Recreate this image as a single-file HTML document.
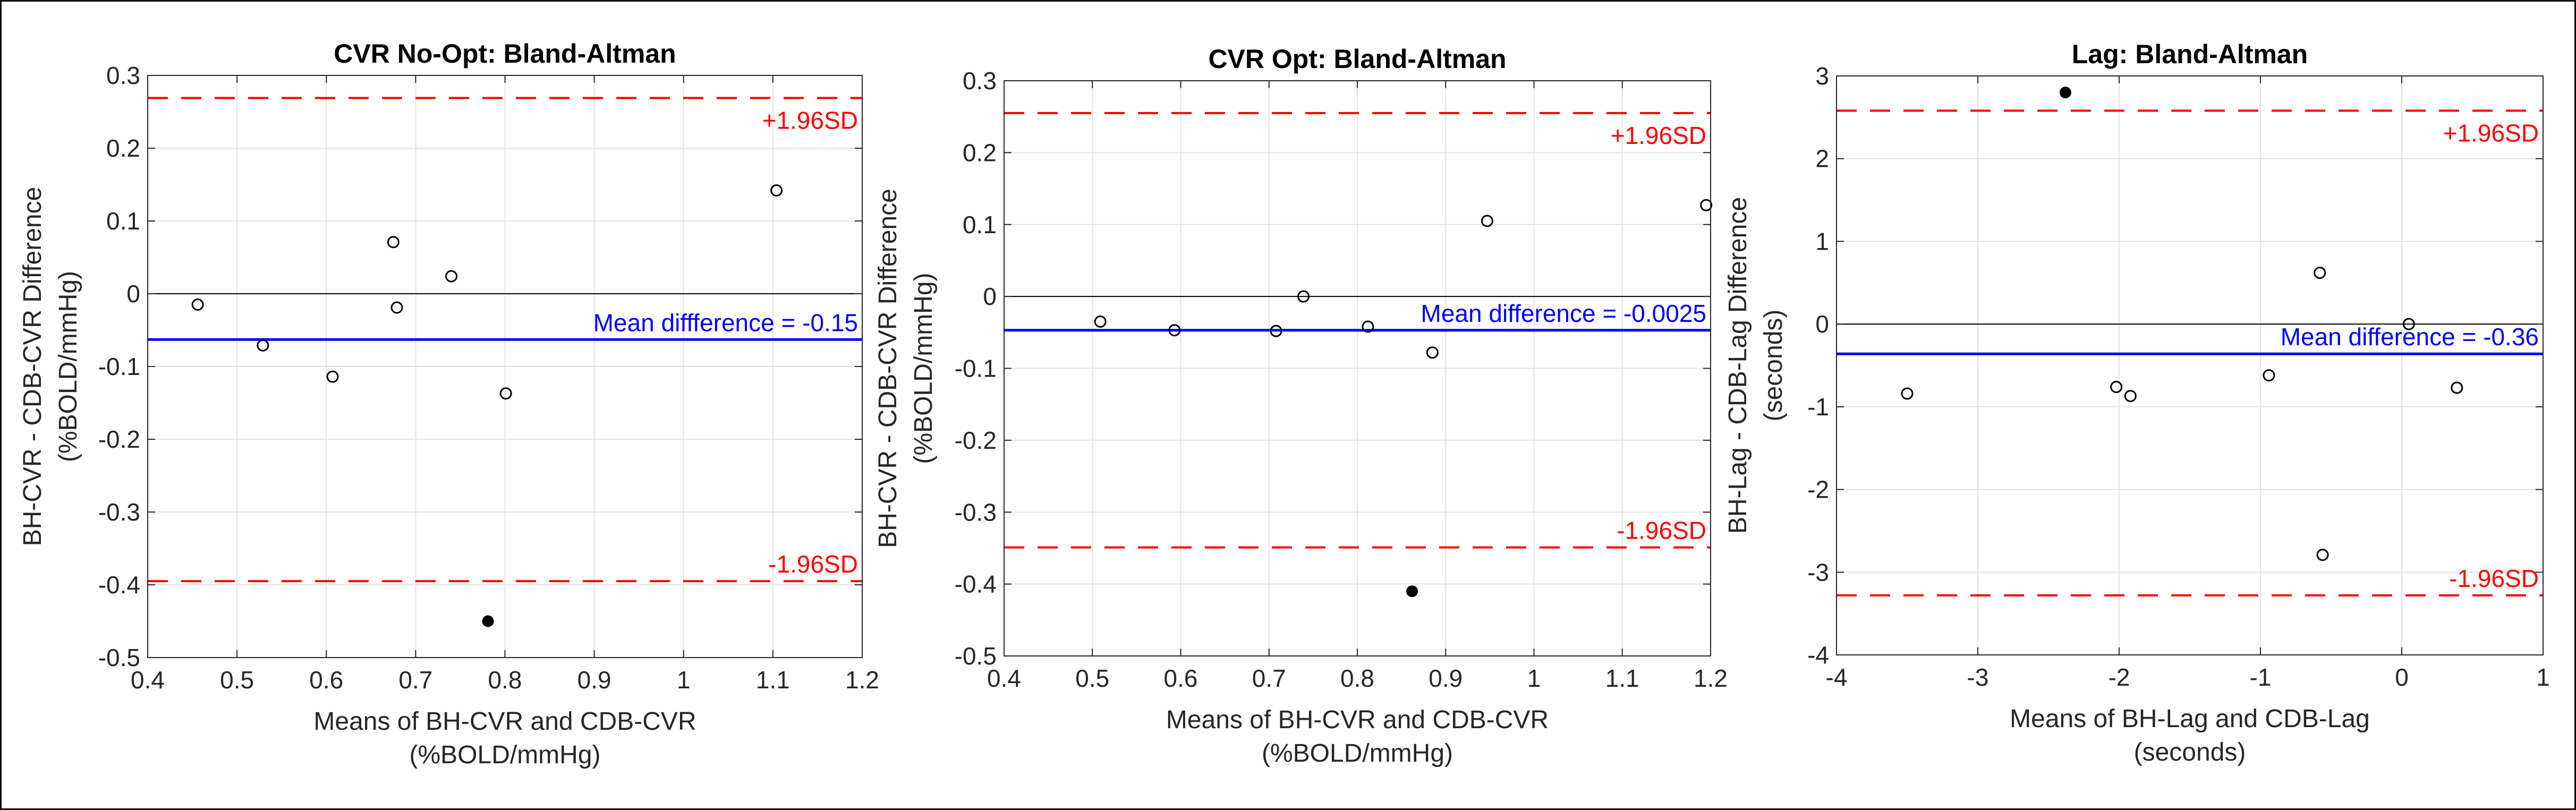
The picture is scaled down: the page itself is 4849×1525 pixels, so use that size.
<!DOCTYPE html>
<html><head><meta charset="utf-8"><style>
html,body{margin:0;padding:0;background:#fff}
svg{display:block}
text{font-family:"Liberation Sans",Arial,sans-serif}
</style></head><body>
<svg id="fig" xmlns="http://www.w3.org/2000/svg" width="4849" height="1525" viewBox="0 0 4849 1525">
<rect x="1.5" y="1.5" width="4846" height="1522" fill="#fff" stroke="#000" stroke-width="3"/>
</svg>
<script>
// Panel 1: CVR No-Opt
const p1X = [0.456, 0.529, 0.607, 0.675, 0.679, 0.740, 0.801, 1.104];
const p1Y = [-0.015, -0.071, -0.114, 0.071, -0.019, 0.024, -0.137, 0.142];
const p1OutX = [0.781];
const p1OutY = [-0.450];
const p1Lines = [0.269, -0.063, -0.395]; // upper, mean, lower
const p1XTicks = [0.4, 0.5, 0.6, 0.7, 0.8, 0.9, 1, 1.1, 1.2];
const p1YTicks = [-0.5, -0.4, -0.3, -0.2, -0.1, 0, 0.1, 0.2, 0.3];
// Panel 2: CVR Opt
const p2X = [0.509, 0.593, 0.708, 0.739, 0.812, 0.885, 0.947, 1.195];
const p2Y = [-0.035, -0.047, -0.048, 0.0, -0.042, -0.078, 0.105, 0.127];
const p2OutX = [0.862];
const p2OutY = [-0.410];
const p2Lines = [0.255, -0.047, -0.349];
const p2XTicks = [0.4, 0.5, 0.6, 0.7, 0.8, 0.9, 1, 1.1, 1.2];
const p2YTicks = [-0.5, -0.4, -0.3, -0.2, -0.1, 0, 0.1, 0.2, 0.3];
// Panel 3: Lag
const p3X = [-3.5, -2.02, -1.92, -0.94, -0.58, -0.56, 0.05, 0.39];
const p3Y = [-0.84, -0.76, -0.87, -0.62, 0.62, -2.79, 0.0, -0.77];
const p3OutX = [-2.38];
const p3OutY = [2.80];
const p3Lines = [2.58, -0.36, -3.28];
const p3XTicks = [-4, -3, -2, -1, 0, 1];
const p3YTicks = [-4, -3, -2, -1, 0, 1, 2, 3];

const NS = "http://www.w3.org/2000/svg";
const svg = document.getElementById('fig');
function mk(tag, attrs, parent){
  const e = document.createElementNS(NS, tag);
  for (const k in attrs) e.setAttribute(k, attrs[k]);
  (parent || svg).appendChild(e);
  return e;
}
function txt(parent, s, attrs){ const t = mk('text', attrs, parent); t.textContent = s; return t; }

function panel(o){
  const g = mk('g', {});
  
  
  const {L, R, T, B} = o;
  const x0 = o.xt[0], x1 = o.xt[o.xt.length-1], y0 = o.yt[0], y1 = o.yt[o.yt.length-1];
  const sx = v => L + (v - x0) / (x1 - x0) * (R - L);
  const sy = v => B - (v - y0) / (y1 - y0) * (B - T);
  // grid
  o.xt.forEach(v => {
    const l = mk('line', {x1: sx(v), x2: sx(v), y1: T, y2: B, stroke: '#e3e3e3', 'stroke-width': 2}, g);
    
    
  });
  o.yt.forEach(v => {
    const l = mk('line', {x1: L, x2: R, y1: sy(v), y2: sy(v), stroke: '#e3e3e3', 'stroke-width': 2}, g);
    
    
  });
  // zero line
  const z = mk('line', {x1: L, x2: R, y1: sy(0), y2: sy(0), stroke: '#000', 'stroke-width': 2}, g);
  
  
  // ticks
  o.xt.forEach(v => {
    mk('line', {x1: sx(v), x2: sx(v), y1: B, y2: B - 14, stroke: '#262626', 'stroke-width': 2}, g);
    mk('line', {x1: sx(v), x2: sx(v), y1: T, y2: T + 14, stroke: '#262626', 'stroke-width': 2}, g);
    const t = txt(g, o.fmtX(v), {x: sx(v), y: B + 58, 'font-size': 46, fill: '#262626', 'text-anchor': 'middle'});
    
    
  });
  o.yt.forEach(v => {
    mk('line', {x1: L, x2: L + 14, y1: sy(v), y2: sy(v), stroke: '#262626', 'stroke-width': 2}, g);
    mk('line', {x1: R, x2: R - 14, y1: sy(v), y2: sy(v), stroke: '#262626', 'stroke-width': 2}, g);
    const t = txt(g, o.fmtY(v), {x: L - 14, y: sy(v) + 16, 'font-size': 46, fill: '#262626', 'text-anchor': 'end'});
    
    
  });
  // limit lines
  const up = mk('line', {x1: L, x2: R, y1: sy(o.lines[0]), y2: sy(o.lines[0]), stroke: '#ff0000', 'stroke-width': 4, 'stroke-dasharray': '38 25'}, g);
  
  
  const lo = mk('line', {x1: L, x2: R, y1: sy(o.lines[2]), y2: sy(o.lines[2]), stroke: '#ff0000', 'stroke-width': 4, 'stroke-dasharray': '38 25'}, g);
  
  
  const mn = mk('line', {x1: L, x2: R, y1: sy(o.lines[1]), y2: sy(o.lines[1]), stroke: '#0000ff', 'stroke-width': 5}, g);
  
  
  const tu = txt(g, '+1.96SD', {x: R - 8, y: sy(o.lines[0]) + 58, 'font-size': 46, fill: '#ff0000', 'text-anchor': 'end'});
  
  
  const tl = txt(g, '-1.96SD', {x: R - 8, y: sy(o.lines[2]) - 16, 'font-size': 46, fill: '#ff0000', 'text-anchor': 'end'});
  
  
  const tm = txt(g, o.meanText, {x: R - 8, y: sy(o.lines[1]) - 16, 'font-size': 46, fill: '#0000ff', 'text-anchor': 'end'});
  
  
  // points
  o.px.forEach((v, i) => {
    const c = mk('circle', {cx: sx(v), cy: sy(o.py[i]), r: 10, fill: 'none', stroke: '#000', 'stroke-width': 3}, g);
    
    
  });
  o.ox.forEach((v, i) => {
    const c = mk('circle', {cx: sx(v), cy: sy(o.oy[i]), r: 11, fill: '#000'}, g);
    
    
  });
  // box
  const bx = mk('rect', {x: L, y: T, width: R - L, height: B - T, fill: 'none', stroke: '#262626', 'stroke-width': 2}, g);
  
  
  // title
  const tt = txt(g, o.title, {x: (L + R) / 2, y: T - 24, 'font-size': 50, 'font-weight': 'bold', fill: '#000', 'text-anchor': 'middle'});
  
  
  // x label
  const xl1 = txt(g, o.xlab[0], {x: (L + R) / 2, y: B + 136, 'font-size': 48, fill: '#262626', 'text-anchor': 'middle'});
  
  
  const xl2 = txt(g, o.xlab[1], {x: (L + R) / 2, y: B + 199, 'font-size': 48, fill: '#262626', 'text-anchor': 'middle'});
  
  
  // y label
  const cy = (T + B) / 2;
  const yl1 = txt(g, o.ylab[0], {x: 0, y: 0, 'font-size': 48, fill: '#262626', 'text-anchor': 'middle', transform: `translate(${o.ylx + 17},${cy}) rotate(-90)`});
  
  
  const yl2 = txt(g, o.ylab[1], {x: 0, y: 0, 'font-size': 48, fill: '#262626', 'text-anchor': 'middle', transform: `translate(${o.ylx + 84},${cy}) rotate(-90)`});
  
  
}
const f1 = v => (Math.round(v * 10) / 10).toString();
const fi = v => v.toString();

panel({name: 'panel-cvr-no-opt', L: 278, R: 1623, T: 142, B: 1238, xt: p1XTicks, yt: p1YTicks, fmtX: f1, fmtY: f1,
  px: p1X, py: p1Y, ox: p1OutX, oy: p1OutY, lines: p1Lines, meanText: 'Mean diffference = -0.15',
  title: 'CVR No-Opt: Bland-Altman', xlab: ['Means of BH-CVR and CDB-CVR', '(%BOLD/mmHg)'],
  ylab: ['BH-CVR - CDB-CVR Difference', '(%BOLD/mmHg)'], ylx: 60});
panel({name: 'panel-cvr-opt', L: 1890, R: 3220, T: 152, B: 1235, xt: p2XTicks, yt: p2YTicks, fmtX: f1, fmtY: f1,
  px: p2X, py: p2Y, ox: p2OutX, oy: p2OutY, lines: p2Lines, meanText: 'Mean difference = -0.0025',
  title: 'CVR Opt: Bland-Altman', xlab: ['Means of BH-CVR and CDB-CVR', '(%BOLD/mmHg)'],
  ylab: ['BH-CVR - CDB-CVR Difference', '(%BOLD/mmHg)'], ylx: 1670});
panel({name: 'panel-lag', L: 3457, R: 4787, T: 143, B: 1233, xt: p3XTicks, yt: p3YTicks, fmtX: fi, fmtY: fi,
  px: p3X, py: p3Y, ox: p3OutX, oy: p3OutY, lines: p3Lines, meanText: 'Mean difference = -0.36',
  title: 'Lag: Bland-Altman', xlab: ['Means of BH-Lag and CDB-Lag', '(seconds)'],
  ylab: ['BH-Lag - CDB-Lag Difference', '(seconds)'], ylx: 3270});
</script>
</body></html>
